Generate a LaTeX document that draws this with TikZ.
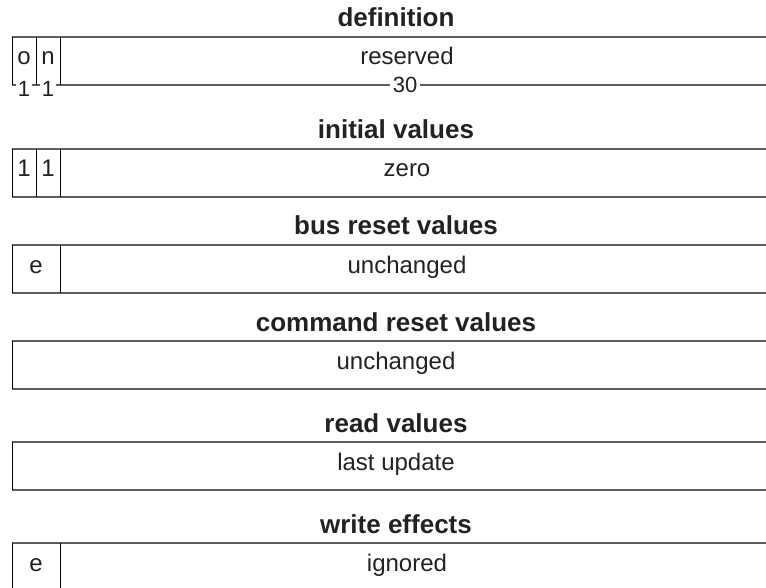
\documentclass[tikz,border=0pt]{standalone}
\usepackage{fontspec}
\setmainfont{Liberation Sans}
\definecolor{rulegray}{HTML}{5E5E5E}
\definecolor{inkgray}{HTML}{222222}
\begin{document}
\begin{tikzpicture}[x=1pt,y=-1pt,
  hrule/.style={draw=rulegray, line width=1.3pt},
  vrule/.style={draw=black, line width=0.9pt},
  title/.style={font=\fontsize{26}{30}\selectfont\bfseries, anchor=base, inner sep=0pt, text=inkgray},
  cell/.style={font=\fontsize{24}{28}\selectfont, anchor=base, inner sep=0pt, text=inkgray},
  bitwidth/.style={font=\fontsize{22}{24}\selectfont, fill=white, inner xsep=1.5pt, inner ysep=0pt, text=inkgray}]
\useasboundingbox (0,0) rectangle (766,588);

% --- definition ---
\node[title] (tdef) at (396,27) {definition};
\draw[hrule] (12,37) -- (766,37);
\draw[hrule] (12,85) -- (766,85);
\draw[vrule] (12,37) -- (12,85);
\draw[vrule] (36,37) -- (36,85);
\draw[vrule] (60,37) -- (60,85);
\node[cell] (cdo) at (24,65) {o};
\node[cell] (cdn) at (48,65) {n};
\node[cell] (cdr) at (407,65) {reserved};
\node[bitwidth] (wo) at (24,89) {1};
\node[bitwidth] (wn) at (48,89) {1};
\node[bitwidth, inner xsep=3pt] (wr) at (405,85) {30};

% --- initial values ---
\node[title] (tini) at (396,139) {initial values};
\draw[hrule] (12,149) -- (766,149);
\draw[hrule] (12,197) -- (766,197);
\draw[vrule] (12,149) -- (12,197);
\draw[vrule] (36,149) -- (36,197);
\draw[vrule] (60,149) -- (60,197);
\node[cell] (cio) at (24,177) {1};
\node[cell] (cin) at (48,177) {1};
\node[cell] (cir) at (407,177) {zero};

% --- bus reset values ---
\node[title] (tbus) at (396,235) {bus reset values};
\draw[hrule] (12,245) -- (766,245);
\draw[hrule] (12,293) -- (766,293);
\draw[vrule] (12,245) -- (12,293);
\draw[vrule] (60,245) -- (60,293);
\node[cell] (cbe) at (36,273) {e};
\node[cell] (cbr) at (407,273) {unchanged};

% --- command reset values ---
\node[title] (tcmd) at (396,331) {command reset values};
\draw[hrule] (12,341) -- (766,341);
\draw[hrule] (12,389) -- (766,389);
\draw[vrule] (12,341) -- (12,389);
\node[cell] (ccr) at (396,369) {unchanged};

% --- read values ---
\node[title] (trd) at (396,432) {read values};
\draw[hrule] (12,442) -- (766,442);
\draw[hrule] (12,490) -- (766,490);
\draw[vrule] (12,442) -- (12,490);
\node[cell] (crr) at (396,470) {last update};

% --- write effects ---
\node[title] (twr) at (396,533) {write effects};
\draw[hrule] (12,543) -- (766,543);
\draw[vrule] (12,543) -- (12,588);
\draw[vrule] (60,543) -- (60,588);
\node[cell] (cwe) at (36,571) {e};
\node[cell] (cwr) at (407,571) {ignored};
\end{tikzpicture}
\end{document}
